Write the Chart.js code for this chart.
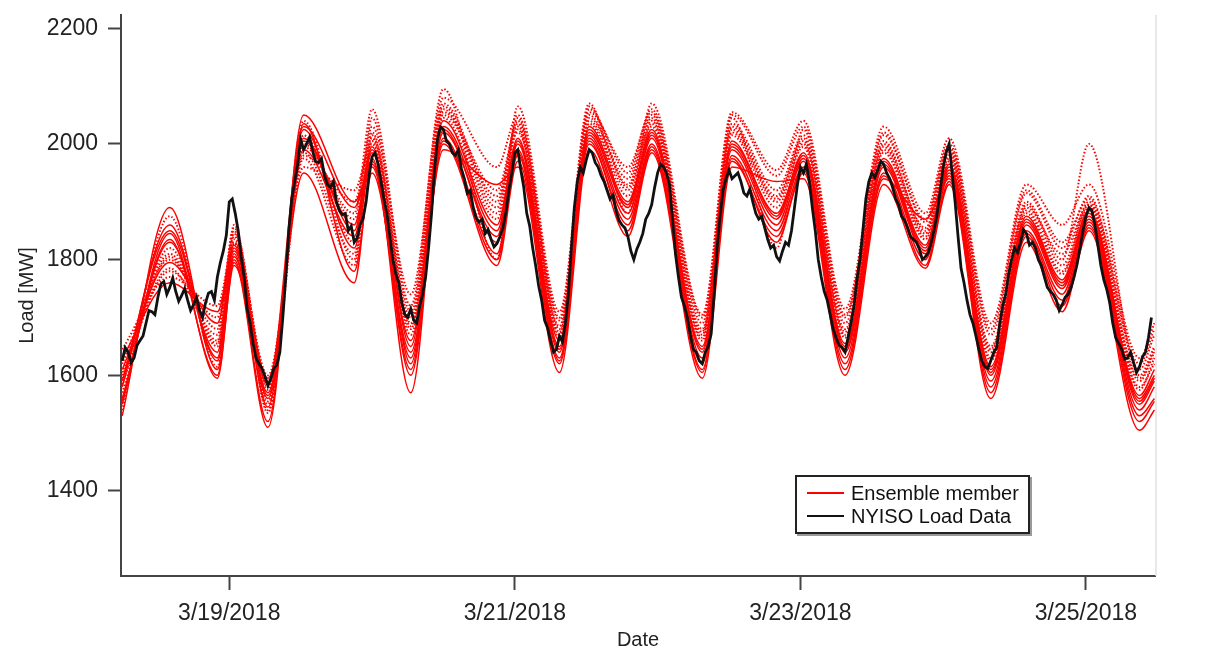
<!DOCTYPE html>
<html>
<head>
<meta charset="utf-8">
<title>Load forecast ensemble</title>
<script src="https://cdn.jsdelivr.net/npm/chart.js@4.4.1/dist/chart.umd.min.js"></script>
<style>
  html, body { margin: 0; padding: 0; background: #fff; }
  #wrap { position: relative; width: 1212px; height: 652px; }
  #legend {
    position: absolute; left: 795px; top: 475px; width: 231px; height: 55px;
    border: 2px solid #222; box-shadow: 2px 2px 0 #9a9a9a; background: #fff;
    font: 20px "Liberation Sans", Arial, sans-serif; color: #111;
  }
  .row { position: absolute; left: 0; width: 100%; height: 22px; }
  .swatch { position: absolute; left: 10px; top: 10px; width: 37px; height: 2px; }
  .txt { position: absolute; left: 54px; top: 0; line-height: 22px; white-space: nowrap; }
</style>
</head>
<body>
<div id="wrap">
  <canvas id="chart" width="1212" height="652"></canvas>
  <div id="legend">
    <div class="row" style="top:5px"><div class="swatch" style="background:#ff0000"></div><span class="txt">Ensemble member</span></div>
    <div class="row" style="top:28px"><div class="swatch" style="background:#111"></div><span class="txt">NYISO Load Data</span></div>
  </div>
</div>
<script>
// hours are counted from 3/19/2018 00:00
const tickHours = [0, 48, 96, 144];
const dateLabels = ['3/19/2018', '3/21/2018', '3/23/2018', '3/25/2018'];
const loadTicks = [1400, 1600, 1800, 2000, 2200];

// observed load, one value per half hour starting at hour -18
const loadStartHour = -18;
const loadStep = 0.5;
const nyisoLoad = [
  1625, 1648, 1640, 1622, 1630, 1652, 1660, 1668, 1690, 1712, 1710, 1705,
  1735, 1758, 1762, 1740, 1752, 1768, 1745, 1728, 1738, 1750, 1730, 1712,
  1722, 1735, 1712, 1700, 1725, 1742, 1745, 1730, 1770, 1795, 1815, 1842,
  1900, 1905, 1880, 1850, 1805, 1770, 1715, 1690, 1655, 1630, 1620, 1612,
  1598, 1582, 1595, 1612, 1618, 1640, 1700, 1770, 1850, 1905, 1935, 1965,
  2008, 1990, 2000, 2012, 1988, 1970, 1968, 1975, 1945, 1930, 1925, 1935,
  1900, 1885, 1878, 1880, 1850, 1858, 1830, 1838, 1860, 1872, 1900, 1945,
  1978, 1985, 1965, 1935, 1905, 1880, 1840, 1800, 1775, 1760, 1725, 1705,
  1700, 1715, 1695, 1690, 1720, 1740, 1770, 1820, 1880, 1955, 2008, 2030,
  2025, 2005, 2000, 1985, 1980, 1990, 1958, 1940, 1915, 1920, 1890, 1872,
  1865, 1870, 1845, 1852, 1835, 1822, 1828, 1840, 1855, 1882, 1920, 1950,
  1985, 1990, 1955, 1925, 1880, 1858, 1820, 1790, 1755, 1730, 1695, 1682,
  1660, 1640, 1645, 1668, 1658, 1690, 1740, 1820, 1890, 1935, 1960, 1950,
  1972, 1990, 1985, 1968, 1960, 1945, 1935, 1920, 1905, 1912, 1885, 1868,
  1860, 1855, 1840, 1815, 1800, 1818, 1830, 1845, 1870, 1880, 1895, 1925,
  1950, 1965, 1960, 1950, 1930, 1870, 1810, 1770, 1735, 1720, 1700, 1670,
  1645, 1640, 1625, 1620, 1640, 1650, 1672, 1740, 1820, 1875, 1920, 1940,
  1955, 1940, 1945, 1950, 1935, 1915, 1910, 1922, 1900, 1880, 1870, 1875,
  1855, 1835, 1820, 1825, 1805, 1798, 1815, 1830, 1825, 1850, 1890, 1930,
  1960, 1950, 1965, 1935, 1890, 1850, 1800, 1770, 1745, 1730, 1705, 1680,
  1665, 1652, 1648, 1640, 1665, 1690, 1720, 1765, 1800, 1850, 1905, 1935,
  1950, 1942, 1955, 1970, 1965, 1950, 1940, 1925, 1905, 1895, 1875, 1868,
  1855, 1840, 1835, 1830, 1818, 1800, 1805, 1812, 1830, 1852, 1880, 1920,
  1960, 1985, 2000, 1950, 1900, 1840, 1785, 1760, 1730, 1705, 1690, 1668,
  1645, 1625, 1615, 1612, 1625, 1640, 1648, 1690, 1720, 1740, 1775, 1800,
  1820, 1812, 1830, 1852, 1845, 1825, 1830, 1820, 1800, 1790, 1770, 1752,
  1745, 1740, 1730, 1712, 1722, 1735, 1740, 1752, 1770, 1792, 1820, 1850,
  1875, 1890, 1885, 1860, 1825, 1790, 1765, 1748, 1725, 1690, 1665, 1655,
  1645, 1628, 1630, 1640, 1622, 1605, 1615, 1632, 1640, 1665, 1700
];

// forecast members, values at the daily turning points
const memberHours = [-18, -10, -2, 0.8, 6.5, 12.5, 21, 24, 30.5, 36, 45, 48.5, 55.5, 60.5, 67,
  71, 79.5, 84.5, 92, 96.5, 103.5, 110, 117, 121, 128, 134, 140, 144.5, 153, 155.5];
const m01 = [1560, 1830, 1640, 1820, 1560, 2010, 1850, 1990, 1650, 2040, 1860, 2010, 1650, 2030, 1900, 2025, 1640, 2000, 1880, 1980, 1650, 1970, 1820, 1960, 1610, 1870, 1760, 1880, 1560, 1600];
const m02 = [1600, 1780, 1700, 1840, 1590, 1980, 1900, 2010, 1700, 2070, 1900, 2040, 1680, 2050, 1930, 2045, 1670, 2030, 1910, 2010, 1680, 2000, 1845, 1985, 1640, 1895, 1790, 1900, 1590, 1640];
const m03 = [1530, 1890, 1610, 1800, 1520, 2050, 1900, 1960, 1610, 2000, 1790, 1970, 1620, 2000, 1860, 1995, 1610, 1970, 1840, 1950, 1620, 1940, 1870, 1940, 1580, 1845, 1730, 1860, 1530, 1560];
const m04 = [1620, 1800, 1680, 1855, 1575, 1995, 1880, 2060, 1720, 2095, 1800, 2065, 1710, 2070, 1880, 2070, 1705, 2055, 1955, 2040, 1715, 2030, 1880, 2010, 1690, 1930, 1860, 1930, 1630, 1690];
const m05 = [1580, 1860, 1625, 1810, 1545, 2025, 1820, 1975, 1570, 2025, 1830, 1990, 1640, 2015, 1880, 2010, 1630, 1990, 1860, 1970, 1640, 1960, 1810, 1955, 1600, 1860, 1750, 1870, 1550, 1590];
const m06 = [1645, 1770, 1720, 1830, 1600, 1960, 1920, 2000, 1680, 2060, 1880, 2030, 1670, 2040, 1920, 2040, 1660, 2020, 1900, 2000, 1670, 1990, 1840, 1975, 1630, 1885, 1780, 1890, 1580, 1620];
const m07 = [1550, 1845, 1595, 1795, 1510, 2035, 1780, 1950, 1640, 1990, 1930, 1960, 1605, 1990, 1840, 1985, 1595, 1960, 1935, 1940, 1600, 1930, 1785, 1930, 1560, 1830, 1710, 1850, 1505, 1540];
const m08 = [1595, 1810, 1660, 1845, 1580, 2000, 1870, 2030, 1740, 2080, 1960, 2050, 1695, 2060, 1950, 2060, 1690, 2045, 1820, 2025, 1700, 2020, 1865, 2000, 1670, 1915, 1820, 1910, 1610, 1670];
const m09 = [1610, 1795, 1690, 1825, 1565, 1990, 1840, 1985, 1660, 2030, 1850, 2000, 1660, 2025, 1890, 2020, 1645, 2005, 1875, 1985, 1655, 1975, 1825, 1965, 1615, 1875, 1765, 1885, 1565, 1610];
const m10 = [1540, 1875, 1615, 1860, 1535, 2040, 1800, 2020, 1690, 2050, 1910, 2020, 1685, 2045, 1940, 2050, 1680, 2035, 1920, 2015, 1690, 2005, 1850, 1990, 1650, 1900, 1800, 2000, 1600, 1650];
const m11 = [1630, 1760, 1710, 1815, 1595, 1950, 1760, 1965, 1630, 2010, 1810, 1980, 1630, 2010, 1870, 2000, 1620, 1980, 1850, 1960, 1630, 1950, 1800, 1945, 1590, 1850, 1740, 1865, 1540, 1580];
const m12 = [1570, 1820, 1650, 1835, 1550, 2015, 1830, 2045, 1710, 2065, 1890, 2045, 1700, 2055, 1960, 2055, 1700, 2050, 1945, 2030, 1705, 2015, 1870, 1995, 1680, 1920, 1830, 1905, 1620, 1680];
const m13 = [1590, 1850, 1630, 1805, 1570, 2005, 1860, 1995, 1620, 2020, 1840, 2005, 1645, 2020, 1895, 2015, 1650, 1995, 1870, 1975, 1645, 1965, 1815, 1950, 1605, 1865, 1755, 1875, 1555, 1595];
const m14 = [1605, 1785, 1670, 1850, 1540, 1975, 1790, 2005, 1670, 2045, 1870, 2025, 1665, 2035, 1910, 2035, 1665, 2015, 1890, 1995, 1665, 1985, 1835, 1970, 1625, 1880, 1775, 1895, 1575, 1630];
const m15 = [1555, 1835, 1600, 1790, 1585, 2030, 1890, 1970, 1600, 2005, 1800, 1985, 1625, 2005, 1850, 1990, 1605, 1975, 1830, 1955, 1610, 1945, 1790, 1935, 1570, 1840, 1720, 1855, 1520, 1555];
const m16 = [1585, 1805, 1655, 1828, 1555, 1985, 1810, 2015, 1685, 2055, 1920, 2035, 1675, 2065, 1925, 2030, 1675, 2025, 1905, 2005, 1675, 1995, 1855, 1980, 1645, 1890, 1810, 1895, 1595, 1645];
const ensembleMembers = [m01, m02, m03, m04, m05, m06, m07, m08, m09, m10, m11, m12, m13, m14, m15, m16];

const FONT = '"Liberation Sans", Arial, Helvetica, sans-serif';
const AXIS = '#444';

const datasets = [{
  label: 'NYISO Load Data',
  data: nyisoLoad.map((v, i) => ({ x: loadStartHour + i * loadStep, y: v })),
  borderColor: '#111',
  borderWidth: 2.8,
  pointRadius: 0
}];
ensembleMembers.forEach((m, k) => {
  const dotted = k % 2 === 1;
  datasets.push({
    label: 'Ensemble member',
    data: memberHours.map((h, i) => ({ x: h, y: m[i] })),
    borderColor: '#ff0000',
    borderWidth: dotted ? 2 : 1.5,
    borderDash: dotted ? [1.5, 2] : [],
    cubicInterpolationMode: 'monotone',
    pointRadius: 0
  });
});

// faint frame line on the right edge of the plot
const rightEdge = {
  id: 'rightEdge',
  afterDraw(chart) {
    const { ctx, chartArea: a } = chart;
    ctx.save();
    ctx.strokeStyle = '#e0e0e0';
    ctx.lineWidth = 1.5;
    ctx.beginPath();
    ctx.moveTo(a.right + 1, a.top);
    ctx.lineTo(a.right + 1, a.bottom);
    ctx.stroke();
    ctx.restore();
  }
};

new Chart(document.getElementById('chart'), {
  type: 'line',
  data: { datasets: datasets },
  options: {
    responsive: false,
    animation: false,
    layout: { padding: { top: 15, right: 57, bottom: 0, left: 0 } },
    plugins: { legend: { display: false }, tooltip: { enabled: false } },
    scales: {
      x: {
        type: 'linear',
        min: -18.2,
        max: 155.6,
        afterBuildTicks: s => { s.ticks = tickHours.map(v => ({ value: v })); },
        afterFit: s => { s.height = 76; s.paddingLeft = 0; s.paddingRight = 0; },
        grid: { drawOnChartArea: false, tickLength: 14, tickColor: AXIS, tickWidth: 2 },
        border: { color: AXIS, width: 2 },
        ticks: {
          font: { family: FONT, size: 23 }, color: '#222', padding: 10,
          maxRotation: 0, autoSkip: false,
          callback: v => dateLabels[tickHours.indexOf(v)]
        },
        title: { display: true, text: 'Date', font: { family: FONT, size: 20 }, color: '#222', padding: 0 }
      },
      y: {
        min: 1253,
        max: 2223,
        afterBuildTicks: s => { s.ticks = loadTicks.map(v => ({ value: v })); },
        afterFit: s => { s.width = 121; s.paddingTop = 0; s.paddingBottom = 0; },
        grid: { drawOnChartArea: false, tickLength: 13, tickColor: AXIS, tickWidth: 2 },
        border: { color: AXIS, width: 2 },
        ticks: { font: { family: FONT, size: 23 }, color: '#222', padding: 10, callback: v => String(v) },
        title: { display: true, text: 'Load [MW]', font: { family: FONT, size: 20 }, color: '#222', padding: { top: 15, bottom: 0 } }
      }
    }
  },
  plugins: [rightEdge]
});
</script>
</body>
</html>
